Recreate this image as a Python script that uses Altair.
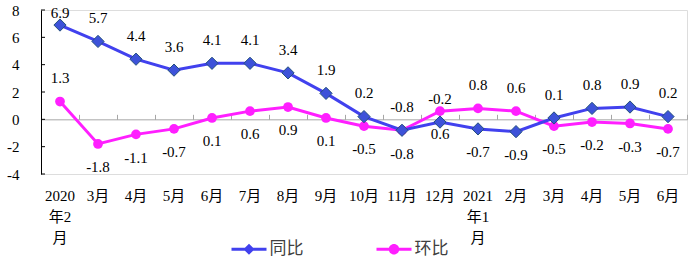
import altair as alt
import pandas as pd

# ---- data ----
periods = ["2020-02", "2020-03", "2020-04", "2020-05", "2020-06", "2020-07",
           "2020-08", "2020-09", "2020-10", "2020-11", "2020-12", "2021-01",
           "2021-02", "2021-03", "2021-04", "2021-05", "2021-06"]
yoy = [6.9, 5.7, 4.4, 3.6, 4.1, 4.1, 3.4, 1.9, 0.2, -0.8, -0.2, -0.7, -0.9, 0.1, 0.8, 0.9, 0.2]
mom = [1.3, -1.8, -1.1, -0.7, 0.1, 0.6, 0.9, 0.1, -0.5, -0.8, 0.6, 0.8, 0.6, -0.5, -0.2, -0.3, -0.7]
series_names = ["同比", "环比"]
y_ticks = [-4, -2, 0, 2, 4, 6, 8]

# label placement as in the reference (同比 above, 环比 below, with a few swaps)
labels_above = {
    "同比": set(periods) - {"2021-01", "2021-02"},
    "环比": {"2020-02", "2021-01", "2021-02"},
}

rows = []
for s, vals in zip(series_names, [yoy, mom]):
    for p, v in zip(periods, vals):
        rows.append({"period": p, "series": s, "value": v,
                     "label": f"{v:.1f}", "above": p in labels_above[s]})
df = pd.DataFrame(rows)
ticks_df = pd.DataFrame({"t": y_ticks})

BLUE_LINE = "#4141EE"
BLUE_FILL = "#3D52D9"
BLUE_EDGE = "#24507E"
MAGENTA = "#FF1FFF"

SERIF = "Liberation Serif, Noto Sans CJK SC"
SANS = "Noto Sans CJK SC"

W, H = 646, 164
Y_MIN, Y_MAX = -4, 8
zero_offset = -(Y_MAX - 0) / (Y_MAX - Y_MIN) * H

x_scale = alt.Scale(type="band", paddingInner=0, paddingOuter=0)
y_scale = alt.Scale(domain=[Y_MIN, Y_MAX], nice=False, zero=False)

label_expr = ("(datum.value == '2020-02' || slice(datum.value, 5) == '01') ? "
              "[slice(datum.value, 0, 4), '年' + toNumber(slice(datum.value, 5)), '月'] : "
              "toNumber(slice(datum.value, 5)) + '月'")

x_bottom = alt.X("period:O", sort=periods, scale=x_scale,
                 axis=alt.Axis(title=None, orient="bottom", domain=False, ticks=False,
                               tickSize=0, labelAngle=0, labelExpr=label_expr,
                               labelPadding=14, labelFont=SERIF, labelFontSize=15,
                               labelColor="black", labelLineHeight=21,
                               labelBaseline="top", grid=False))
x_top = alt.X("period:O", sort=periods, scale=x_scale,
              axis=alt.Axis(title=None, orient="top", offset=zero_offset, labels=False,
                            domain=True, domainColor="#A6A6A6", domainWidth=1,
                            ticks=True, tickColor="#A6A6A6", tickSize=5,
                            tickBand="extent", grid=False))
x_none = alt.X("period:O", sort=periods, scale=x_scale, axis=None)

y_axis = alt.Axis(title=None, values=y_ticks, domain=True, domainColor="black",
                  ticks=False, tickSize=0, grid=False, labelPadding=22,
                  labelFont=SERIF, labelFontSize=15, labelColor="black",
                  labelExpr="'' + datum.value")

base = alt.Chart(df)

mom_line = base.transform_filter(alt.datum.series == "环比").mark_line(
    color=MAGENTA, strokeWidth=3).encode(
    x=x_top, y=alt.Y("value:Q", scale=y_scale, axis=y_axis))
mom_pts = base.transform_filter(alt.datum.series == "环比").mark_circle(
    color=MAGENTA, size=95, opacity=1).encode(
    x=x_none, y=alt.Y("value:Q", scale=y_scale, axis=y_axis))

yoy_line = base.transform_filter(alt.datum.series == "同比").mark_line(
    color=BLUE_LINE, strokeWidth=3).encode(
    x=x_bottom, y=alt.Y("value:Q", scale=y_scale, axis=y_axis))
yoy_pts = base.transform_filter(alt.datum.series == "同比").mark_point(
    shape="diamond", filled=True, size=150, fill=BLUE_FILL, stroke=BLUE_EDGE,
    strokeWidth=1, opacity=1).encode(
    x=x_none, y=alt.Y("value:Q", scale=y_scale, axis=y_axis))

labels = base.transform_calculate(
    label_y="datum.above ? min(datum.value + 1.7, 7.75) : datum.value - 1.7"
).mark_text(font=SERIF, fontSize=15, color="black", baseline="middle",
            align="center").encode(
    x=x_none, y=alt.Y("label_y:Q", scale=y_scale, axis=y_axis), text="label:N")

y_tick_marks = alt.Chart(ticks_df).mark_rule(color="black", strokeWidth=1).encode(
    y=alt.Y("t:Q", scale=y_scale, axis=y_axis), x=alt.value(0), x2=alt.value(4))

# legend: line + marker symbols
diamond_path = "M-1,-0.085H1V0.085H-1Z M0,-0.32L0.32,0L0,0.32L-0.32,0Z"
circle_path = ("M-1,-0.085H1V0.085H-1Z M0.3,0A0.3,0.3 0 1,1 -0.3,0"
               "A0.3,0.3 0 1,1 0.3,0Z")
legend = alt.Legend(title=None, orient="none", legendX=190.5, legendY=221.5,
                    direction="horizontal", symbolSize=1225, symbolStrokeWidth=0,
                    labelFont=SANS, labelFontSize=17, labelColor="#404040",
                    labelOffset=3, columnPadding=73, padding=0)
legend_layer = base.transform_filter("false").mark_point(filled=True, opacity=1).encode(
    x=x_none, y=alt.Y("value:Q", scale=y_scale, axis=y_axis),
    color=alt.Color("series:N", scale=alt.Scale(domain=series_names,
                                                range=[BLUE_LINE, MAGENTA]), legend=legend),
    shape=alt.Shape("series:N", scale=alt.Scale(domain=series_names,
                                                range=[diamond_path, circle_path]), legend=legend),
)

chart = alt.layer(
    y_tick_marks, mom_line, yoy_line, mom_pts, yoy_pts, labels, legend_layer
).resolve_axis(x="independent").properties(
    width=W, height=H,
    autosize=alt.AutoSizeParams(type="none"),
    padding={"left": 41, "top": 10, "right": 6, "bottom": 89},
).configure_view(stroke=None).configure(background="white")

chart.save("out.html", embed_options={"renderer": "svg", "actions": False})
